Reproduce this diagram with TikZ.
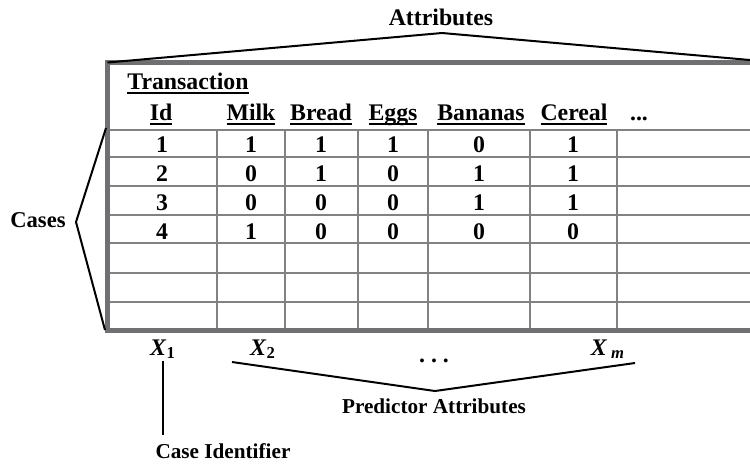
\documentclass[tikz,border=0pt]{standalone}
\usepackage{fontspec}
\setmainfont{Liberation Serif}
\usetikzlibrary{positioning,calc}

\definecolor{framegray}{RGB}{112,112,114}
\definecolor{gridgray}{RGB}{130,130,132}

% underlined column head
\newcommand{\colhd}[1]{\setbox0\hbox{#1}\leavevmode\rlap{\vrule height -1.7pt depth 2.5pt width\wd0}\box0}

\begin{document}
\begin{tikzpicture}[
	x=0.5pt,y=-0.5pt,
	font=\bfseries\fontsize{11.9}{14}\selectfont,
	text=black,
	tablebox/.style={line width=2.5pt,draw=framegray},
	gridline/.style={line width=1.3pt,draw=gridgray},
	bracket/.style={line width=1pt,draw=black},
	hd/.style={anchor=base,inner sep=1pt},
	cell/.style={anchor=base,inner sep=1pt},
	small/.style={font=\bfseries\fontsize{10.6}{12}\selectfont,inner sep=1pt}
	]
	\useasboundingbox (0,0) rectangle (750,463);

	%% grid of the table
	\foreach \x in {217,285,358,428,530,617}
		\draw[gridline] (\x,130) -- (\x,330);
	\foreach \y in {130,157,186,215,243,273,302}
		\draw[gridline] (107,\y) -- (750,\y);

	%% frame
	\coordinate (NW) at (107.5,62.5);
	\coordinate (NE) at (750,62.5);
	\coordinate (SW) at (107.5,330);
	\coordinate (SE) at (750,330);
	\draw[tablebox] (NE) -- (NW) -- (SW) -- (SE);

	%% header
	\node (trans) [anchor=base west,inner sep=1pt] at (125,89) {\colhd{Transaction}};
	\node (id)      [hd] at (161,120) {\colhd{Id}};
	\node (milk)    [hd] at (251,120) {\colhd{Milk}};
	\node (bread)   [hd] at (321,120) {\colhd{Bread}};
	\node (eggs)    [hd] at (393,120) {\colhd{Eggs}};
	\node (bananas) [hd] at (481,120) {\colhd{Bananas}};
	\node (cereal)  [hd] at (574,120) {\colhd{Cereal}};
	\node (more)    [hd] at (639,120) {...};

	%% rows
	\foreach \r/\a/\b/\c/\d/\e/\f in {1/1/1/1/1/0/1,2/2/0/1/0/1/1,3/3/0/0/0/1/1,4/4/1/0/0/0/0}{
		\pgfmathsetmacro{\yb}{152+29*(\r-1)}
		\node (c\r a) [cell] at (162,\yb) {\a};
		\node (c\r b) [cell] at (251,\yb) {\b};
		\node (c\r c) [cell] at (321,\yb) {\c};
		\node (c\r d) [cell] at (393,\yb) {\d};
		\node (c\r e) [cell] at (479,\yb) {\e};
		\node (c\r f) [cell] at (573,\yb) {\f};
	}

	%% attributes
	\node (attr) [anchor=base,inner sep=1pt] at (441,25) {Attributes};
	\coordinate (attrTip) at (442,33);
	\coordinate (attrR) at (750,60);
	\draw[bracket] (NW) -- (attrTip) -- (attrR);

	%% cases
	\node (cases) [anchor=base east,font=\bfseries\fontsize{11.3}{13}\selectfont,inner sep=1pt] at (68,227) {Cases};
	\coordinate (casesTop) at (106,128);
	\coordinate (casesTip) at (76,222);
	\coordinate (casesBot) at (105,330);
	\draw[bracket] (casesTop) -- (casesTip) -- (casesBot);

	%% variables
	\node (x1)   [anchor=base,inner sep=1pt] at (163,355) {\textit{X}\textsubscript{1}};
	\node (x2)   [anchor=base,inner sep=1pt] at (263,355) {\textit{X}\textsubscript{2}};
	\node (dots) [anchor=base,inner sep=1pt] at (434,362) {.\ .\ .};
	\node (xm)   [anchor=base,inner sep=1pt] at (608,355) {\textit{X}\,\textsubscript{\textit{m}}};

	%% predictor attributes
	\node (pred) [small,anchor=base] at (434,413) {Predictor Attributes};
	\coordinate (predL) at (232,362);
	\coordinate (predTip) at (435,391);
	\coordinate (predR) at (635,363);
	\draw[bracket] (predL) -- (predTip) -- (predR);

	%% case identifier
	\node (caseid) [small,anchor=base] at (223,458) {Case Identifier};
	\draw[bracket,shorten >=3pt] (x1.south) -- (x1.south |- caseid.north);

\end{tikzpicture}
\end{document}
